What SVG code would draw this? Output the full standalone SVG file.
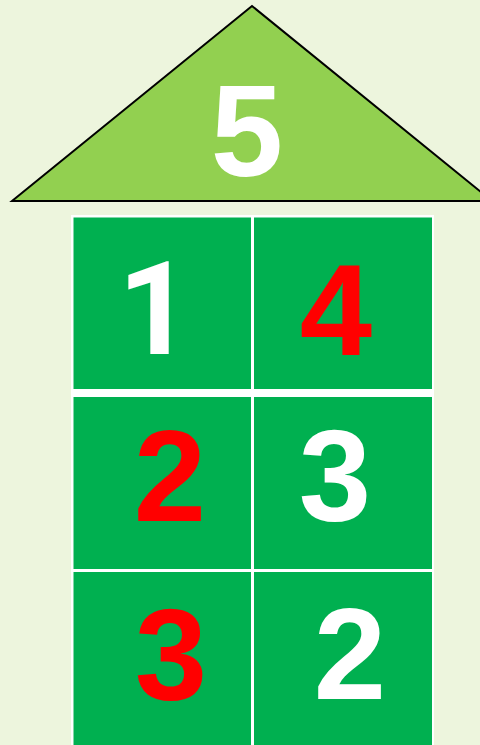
<svg xmlns="http://www.w3.org/2000/svg" width="480" height="745" viewBox="0 0 480 745">
<style>
.num{font-family:"Liberation Sans",Arial,sans-serif;font-weight:bold;font-size:130px;text-anchor:middle}
.one{font-family:Roboto,"Liberation Sans",sans-serif}
.w{fill:#ffffff}
.r{fill:#ff0000}
.cell{fill:#00b050}
</style>
<rect x="0" y="0" width="480" height="745" fill="#edf5dd"/>
<g id="roof">
<polygon points="12,201 252,6 492,201" fill="#92d050" stroke="#000" stroke-width="2"/>
<text class="num w" x="247" y="176">5</text>
</g>
<rect x="71" y="215" width="363" height="530" fill="#ffffff"/>
<g id="c11"><rect class="cell" x="73.5" y="217.5" width="177.5" height="171.5"/><text class="num one w" x="155" y="354">1</text></g>
<g id="c12"><rect class="cell" x="254" y="217.5" width="178" height="171.5"/><text class="num r" x="336" y="355">4</text></g>
<g id="c21"><rect class="cell" x="73.5" y="397" width="177.5" height="172"/><text class="num r" x="170" y="521">2</text></g>
<g id="c22"><rect class="cell" x="254" y="397" width="178" height="172"/><text class="num w" x="335" y="521">3</text></g>
<g id="c31"><rect class="cell" x="73.5" y="572" width="177.5" height="173"/><text class="num r" x="171" y="700">3</text></g>
<g id="c32"><rect class="cell" x="254" y="572" width="178" height="173"/><text class="num w" x="350" y="699">2</text></g>
</svg>
